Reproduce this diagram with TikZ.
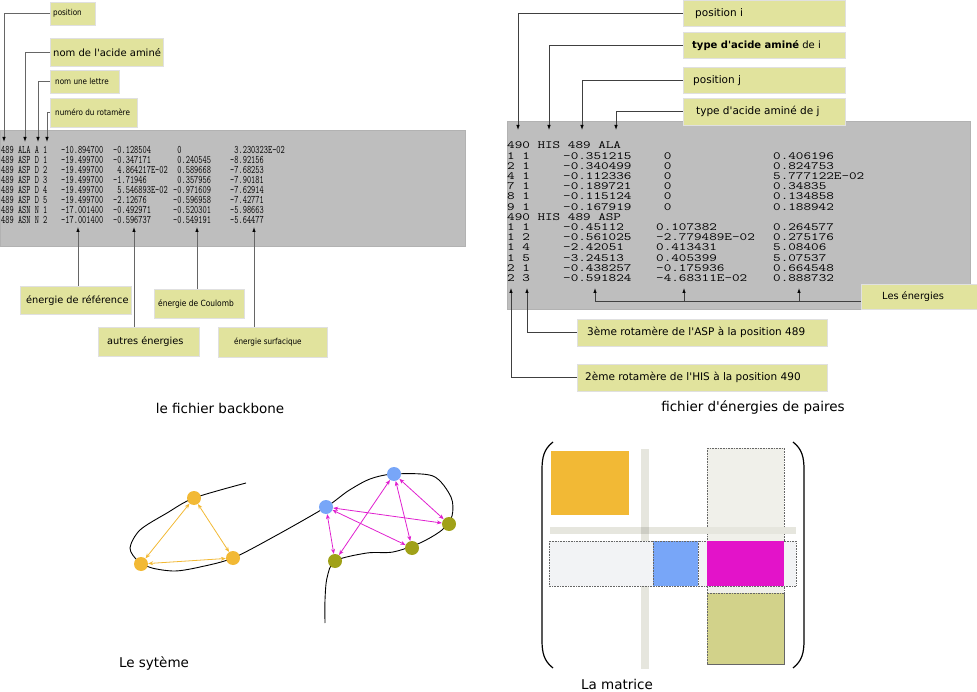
\documentclass[tikz,border=0pt]{standalone}
\usepackage{fontspec}
\setmainfont{DejaVu Sans}[Ligatures=TeXOff]
\usepackage{graphicx}
\usetikzlibrary{arrows.meta}

\definecolor{lblfill}{RGB}{225,227,157}
\definecolor{panel}{RGB}{190,190,190}
\definecolor{resorange}{RGB}{242,185,53}
\definecolor{resblue}{RGB}{120,166,248}
\definecolor{resolive}{RGB}{160,161,24}
\definecolor{pairmag}{RGB}{224,32,207}
\definecolor{cellmag}{RGB}{227,19,201}
\definecolor{cellolive}{RGB}{210,210,138}
\definecolor{bandgray}{RGB}{230,230,222}
\definecolor{bandcross}{RGB}{205,205,196}
\definecolor{colfill}{RGB}{240,240,234}
\definecolor{rowfill}{RGB}{242,243,245}

\newcommand\cond[1]{\scalebox{0.88}[1]{#1}}
\newcommand\lbltxt[3]{\makebox[#1pt][l]{\hspace{#2pt}#3}}
\newcommand\pz{\phantom{-}}
\newcommand\bbtxt[1]{\scalebox{0.71}[1]{#1}}
\newcommand\pairtxt[1]{\scalebox{1.34}[1]{#1}}

\tikzset{
  lbl/.style={fill=lblfill, draw=black!12, inner sep=0pt, anchor=north west},
  lblsm/.style={lbl, font=\fontsize{8.2}{10}\selectfont},
  lblmd/.style={lbl, font=\fontsize{9.8}{12}\selectfont},
  lblbig/.style={lbl, font=\fontsize{10.5}{12}\selectfont},
  conn/.style={draw=black!60, line width=0.8, -{Latex[length=5pt,width=3.5pt,color=black]}},
  conn2/.style={draw=black!75, line width=0.8, -{Latex[length=5pt,width=3.5pt,color=black]}},
  bbcell/.style={anchor=base west, inner sep=0pt, font=\fontsize{11.5}{11.5}\ttfamily},
  paircell/.style={anchor=base west, inner sep=0pt, font=\fontsize{11}{11}\ttfamily},
  caption/.style={font=\fontsize{13.5}{16}\selectfont},
  res/.style={circle, minimum size=14, inner sep=0pt, fill=#1},
  pairarr/.style={draw=#1, line width=0.8, {Stealth[length=5pt,width=4pt]}-{Stealth[length=5pt,width=4pt]}},
  dots/.style={draw=black!60, densely dotted, line width=0.6}
}

\begin{document}
\begin{tikzpicture}[x=1pt, y=-1pt]
    \useasboundingbox (0,0) rectangle (977,692);

    % Fichier backbone
    \fill[panel, draw=black!30] (0,130) rectangle (465,246);
    \foreach \a/\b/\c/\d/\e [count=\i] in {
        489 ALA A 1/-10.894700/-0.128504/\pz0/\pz3.230323E-02,
        489 ASP D 1/-19.499700/-0.347171/\pz0.240545/-8.92156,
        489 ASP D 2/-19.499700/\pz4.864217E-02/\pz0.589668/-7.68253,
        489 ASP D 3/-19.499700/-1.71946/\pz0.357956/-7.90181,
        489 ASP D 4/-19.499700/\pz5.546893E-02/-0.971609/-7.62914,
        489 ASP D 5/-19.499700/-2.12676/-0.596958/-7.42771,
        489 ASN N 1/-17.001400/-0.492971/-0.520301/-5.98663,
        489 ASN N 2/-17.001400/-0.596737/-0.549191/-5.64477} {
        \node[bbcell] (bb\i a) at (1,{144+\i*9.93}) {\bbtxt{\a}};
        \node[bbcell] (bb\i b) at (61,{144+\i*9.93}) {\bbtxt{\b}};
        \node[bbcell] (bb\i c) at (113,{144+\i*9.93}) {\bbtxt{\c}};
        \node[bbcell] (bb\i d) at (173,{144+\i*9.93}) {\bbtxt{\d}};
        \node[bbcell] (bb\i e) at (230,{144+\i*9.93}) {\bbtxt{\e}};
    }
    % Labels du haut
    \node[lblsm] (lpos) at (50,2) [minimum height=23] {\lbltxt{45}{3}{\cond{position}}};
    \node[lblmd, font=\fontsize{10}{12}\selectfont] (lnom) at (50,38) [minimum height=28] {\lbltxt{113}{3}{nom de l'acide aminé}};
    \node[lblsm] (llet) at (50,70) [minimum height=23] {\lbltxt{69}{5}{\cond{nom une lettre}}};
    \node[lblsm] (lrot) at (50,98) [minimum height=29] {\lbltxt{87}{5}{\cond{numéro du rotamère}}};
    \coordinate (apos) at (4,142);
    \coordinate (anom) at (25,142);
    \coordinate (alet) at (38,142);
    \coordinate (arot) at (47,142);
    \draw[conn] (lpos.west) -| (apos);
    \draw[conn] (lnom.west) -| (anom);
    \draw[conn] (llet.west) -| (alet);
    \draw[conn] (lrot.west) -| (arot);
    % Labels du bas
    \node[lblmd] (lref) at (20,286) [minimum height=28] {\lbltxt{111}{6}{énergie de référence}};
    \node[lblmd] (laut) at (98,327) [minimum height=29] {\lbltxt{101}{9}{autres énergies}};
    \node[lblsm, font=\fontsize{8.5}{10}\selectfont] (lcou) at (154,289) [minimum height=29] {\lbltxt{90}{4}{\cond{énergie de Coulomb}}};
    \node[lblsm] (lsur) at (218,327) [minimum height=30] {\lbltxt{109}{16}{\cond{énergie surfacique}}};
    \coordinate (aref) at (78,227);
    \coordinate (aaut) at (134,227);
    \coordinate (acou) at (197,227);
    \coordinate (asur) at (254,227);
    \draw[conn] (lref.north -| aref) -- (aref);
    \draw[conn] (laut.north -| aaut) -- (aaut);
    \draw[conn] (lcou.north -| acou) -- (acou);
    \draw[conn] (lsur.north -| asur) -- (asur);
    \node[caption] (capbb) at (220,408) {le fichier backbone};

    % Fichier d'energies de paires
    \fill[panel, draw=black!30] (507,121) rectangle (970,309);
    \foreach \a/\b/\c/\d [count=\i] in {
        490 HIS 489 ALA///,
        1 1/-0.351215/\pz0/0.406196,
        2 1/-0.340499/\pz0/0.824753,
        4 1/-0.112336/\pz0/5.777122E-02,
        7 1/-0.189721/\pz0/0.34835,
        8 1/-0.115124/\pz0/0.134858,
        9 1/-0.167919/\pz0/0.188942,
        490 HIS 489 ASP///,
        1 1/-0.45112/0.107382/0.264577,
        1 2/-0.561025/-2.779489E-02/0.275176,
        1 4/-2.42051/0.413431/5.08406,
        1 5/-3.24513/0.405399/5.07537,
        2 1/-0.438257/-0.175936/0.664548,
        2 3/-0.591824/-4.68311E-02/0.888732} {
        \node[paircell] (pe\i a) at (507,{138.8+\i*10.2}) {\pairtxt{\a}};
        \node[paircell] (pe\i b) at (563,{138.8+\i*10.2}) {\pairtxt{\b}};
        \node[paircell] (pe\i c) at (656,{138.8+\i*10.2}) {\pairtxt{\c}};
        \node[paircell] (pe\i d) at (773,{138.8+\i*10.2}) {\pairtxt{\d}};
    }
    % Labels du haut
    \node[lblbig] (rposi) at (683,0) [minimum height=26] {\lbltxt{162}{12}{position i}};
    \node[lblbig, font=\fontsize{10}{12}\selectfont] (rtypi) at (683,32) [minimum height=26] {\lbltxt{162}{9}{\textbf{type d'acide aminé} de i}};
    \node[lblbig] (rposj) at (683,67) [minimum height=26] {\lbltxt{162}{10}{position j}};
    \node[lblbig] (rtypj) at (683,98) [minimum height=27] {\lbltxt{162}{13}{type d'acide aminé de j}};
    \coordinate (aposi) at (518,130);
    \coordinate (atypi) at (549,130);
    \coordinate (aposj) at (582,130);
    \coordinate (atypj) at (616,130);
    \draw[conn2] (rposi.west) -| (aposi);
    \draw[conn2] (rtypi.west) -| (atypi);
    \draw[conn2] (rposj.west) -| (aposj);
    \draw[conn2] (rtypj.west) -| (atypj);
    % Labels du bas
    \node[lblmd] (rles) at (861,284) [minimum height=25] {\lbltxt{116}{21}{Les énergies}};
    \node[lblbig] (rrot3) at (577,319) [minimum height=27] {\lbltxt{250}{10}{3ème rotamère de l'ASP à la position 489}};
    \node[lblbig] (rrot2) at (577,364) [minimum height=27] {\lbltxt{250}{8}{2ème rotamère de l'HIS à la position 490}};
    \coordinate (jen) at (595,301);
    \draw[draw=black!75, line width=0.8] (jen) -- (jen -| rles.west);
    \foreach \x in {595,684,799} {
        \coordinate (e\x) at (\x,288);
        \draw[conn2] (e\x |- jen) -- (e\x);
    }
    \coordinate (arot3) at (527,288);
    \coordinate (arot2) at (511,288);
    \draw[conn2] (rrot3.west) -| (arot3);
    \draw[conn2] (rrot2.west) -| (arot2);
    \node[caption] (cappe) at (753,408) {fichier d'énergies de paires};

    % Le systeme
    \draw[line width=0.9] plot[smooth, tension=0.5] coordinates {
        (246,483) (194,498) (167,513) (140,530) (130,548) (138,561) (152,568)
        (175,571) (200,567) (233,558) (277,535) (326,507) (348,491) (370,479)
        (394,474) (433,476) (451,497) (452,516) (442,530) (420,543) (393,552)
        (367,553) (335,561) (327,578) (325,600) (325,623)};
    \node[res=resorange] (o1) at (194,498) {};
    \node[res=resorange] (o2) at (141,564) {};
    \node[res=resorange] (o3) at (233,558) {};
    \node[res=resblue] (b1) at (326,507) {};
    \node[res=resblue] (b2) at (394,474) {};
    \node[res=resolive] (g1) at (449,524) {};
    \node[res=resolive] (g2) at (412,548) {};
    \node[res=resolive] (g3) at (335,561) {};
    \draw[pairarr=resorange] (o1) -- (o2);
    \draw[pairarr=resorange] (o1) -- (o3);
    \draw[pairarr=resorange] (o2) -- (o3);
    \foreach \b in {b1,b2} {
        \foreach \g in {g1,g2,g3} {
            \draw[pairarr=pairmag] (\b) -- (\g);
        }
    }
    \node[caption] (capsys) at (154,664) {Le sytème};

    % La matrice
    \fill[colfill] (707,448) rectangle (784,664);
    \draw[dots] (707,448) rectangle (784,664);
    \fill[bandgray] (641,449) rectangle (649,669);
    \fill[bandgray] (550,527) rectangle (796,534);
    \fill[bandcross] (641,527) rectangle (649,534);
    \draw[dots, fill=rowfill] (549,541) rectangle (796,586);
    \fill[resorange] (551,451) rectangle (629,515);
    \draw[dots, fill=resblue] (653,541) rectangle (698,586);
    \fill[cellmag] (707,541) rectangle (784,586);
    \draw[dots, fill=cellolive] (707,593) rectangle (784,664);
    \draw[line width=1.2] (553,442) .. controls (544,449) and (542,457) .. (542,470)
        -- (542,640) .. controls (542,653) and (544,661) .. (553,668);
    \draw[line width=1.2] (793,442) .. controls (802,449) and (804,457) .. (804,470)
        -- (804,640) .. controls (804,653) and (802,661) .. (793,668);
    \node[caption] (capmat) at (617,684) {La matrice};
\end{tikzpicture}
\end{document}
